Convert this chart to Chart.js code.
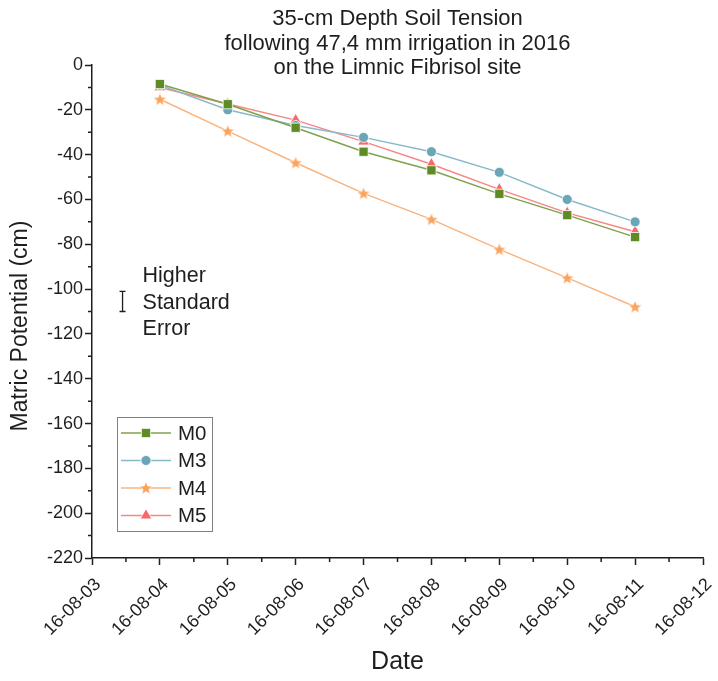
<!DOCTYPE html>
<html>
<head>
<meta charset="utf-8">
<script src="https://cdn.jsdelivr.net/npm/chart.js@4.4.1/dist/chart.umd.min.js"></script>
<style>
  html, body { margin: 0; padding: 0; background: #fff; }
</style>
</head>
<body>
<canvas id="chart" width="718" height="681"></canvas>
<script>
const tickDates = [
  "16-08-03", "16-08-04", "16-08-05", "16-08-06", "16-08-07",
  "16-08-08", "16-08-09", "16-08-10", "16-08-11", "16-08-12",
];
const sampleDates = [
  "16-08-04", "16-08-05", "16-08-06", "16-08-07",
  "16-08-08", "16-08-09", "16-08-10", "16-08-11",
];

// matric potential at 35 cm depth (cm)
const m0 = [-8.5, -17.5, -28, -38.7, -47, -57.5, -67, -76.8];
const m3 = [-9, -20, -27, -32.3, -38.7, -47.9, -60, -70];
const m4 = [-15.3, -29.5, -43.6, -57.3, -68.9, -82.3, -95, -107.9];
const m5 = [-10, -17.4, -24.6, -34.2, -44.3, -55.5, -66, -74.4];

const seriesNames = ["M0", "M3", "M4", "M5"];

const titleLines = [
  "35-cm Depth Soil Tension",
  "following 47,4 mm irrigation in 2016",
  "on the Limnic Fibrisol site",
];
const yTitle = "Matric Potential (cm)";
const xTitle = "Date";
const noteLines = ["Higher", "Standard", "Error"];
// typical high standard error, drawn as a free-standing bar
const errorBar = { x: 0.45, low: -110, high: -101 };

const FONT = "'Liberation Sans', Arial, sans-serif";
const INK = "#1e1e1e";

const makeStar = (fill) => {
  const c = document.createElement("canvas");
  c.width = 16;
  c.height = 16;
  const g = c.getContext("2d");
  g.beginPath();
  for (let i = 0; i < 10; i++) {
    const r = i % 2 === 0 ? 7 : 3;
    const a = -Math.PI / 2 + (i * Math.PI) / 5;
    g.lineTo(8 + r * Math.cos(a), 8.5 + r * Math.sin(a));
  }
  g.closePath();
  g.fillStyle = fill;
  g.fill();
  g.strokeStyle = "rgba(255,255,255,0.8)";
  g.lineWidth = 0.8;
  g.stroke();
  return c;
};

const styles = [
  { marker: "#5f8b25", line: "#7fa24a", pointStyle: "rect", radius: 6.5 },
  { marker: "#6aa5b8", line: "#86b9ca", pointStyle: "circle", radius: 5 },
  { marker: "#f9a35c", line: "#f9b47f", pointStyle: makeStar("#f9a35c"), radius: 7 },
  { marker: "#f86a6a", line: "#f88585", pointStyle: "triangle", radius: 6.8 },
];

const toPoints = (values) =>
  sampleDates.map((d, i) => ({ x: tickDates.indexOf(d), y: values[i] }));

const datasets = [m0, m3, m4, m5].map((values, i) => ({
  label: seriesNames[i],
  data: toPoints(values),
  borderColor: styles[i].line,
  backgroundColor: styles[i].marker,
  pointBackgroundColor: styles[i].marker,
  pointBorderColor: "#ffffff",
  pointBorderWidth: 0.8,
  pointStyle: styles[i].pointStyle,
  pointRadius: styles[i].radius,
  borderWidth: 1.5,
  tension: 0,
}));

const drawPoint = (ctx, s, x, y) => {
  ctx.save();
  ctx.fillStyle = s.marker;
  ctx.strokeStyle = "#ffffff";
  ctx.lineWidth = 0.8;
  Chart.helpers.drawPoint(ctx, { pointStyle: s.pointStyle, radius: s.radius, rotation: 0, borderWidth: 0.8 }, x, y);
  ctx.restore();
};

// minor ticks, titles, legend and the standard error note
const decorations = {
  id: "decorations",
  afterDraw(chart) {
    const { ctx, chartArea, scales } = chart;
    const x = scales.x;
    const y = scales.y;
    ctx.save();
    ctx.strokeStyle = INK;
    ctx.lineWidth = 1.5;

    ctx.beginPath();
    for (let v = 0.5; v < tickDates.length - 1; v++) {
      const px = x.getPixelForValue(v);
      ctx.moveTo(px, chartArea.bottom);
      ctx.lineTo(px, chartArea.bottom + 4);
    }
    for (let v = -210; v < 0; v += 20) {
      const py = y.getPixelForValue(v);
      ctx.moveTo(chartArea.left, py);
      ctx.lineTo(chartArea.left - 4, py);
    }
    ctx.stroke();

    ctx.fillStyle = INK;
    ctx.textAlign = "center";
    ctx.textBaseline = "middle";
    ctx.font = `22px ${FONT}`;
    const cx = (chartArea.left + chartArea.right) / 2;
    titleLines.forEach((line, i) => ctx.fillText(line, cx, 19 + i * 24.5));

    ctx.save();
    ctx.translate(21, 326);
    ctx.rotate(-Math.PI / 2);
    ctx.font = `23px ${FONT}`;
    ctx.fillText(yTitle, 0, 0);
    ctx.restore();

    // error bar note
    const bx = x.getPixelForValue(errorBar.x);
    const by1 = y.getPixelForValue(errorBar.high);
    const by2 = y.getPixelForValue(errorBar.low);
    ctx.lineWidth = 1.3;
    ctx.beginPath();
    ctx.moveTo(bx, by1);
    ctx.lineTo(bx, by2);
    ctx.moveTo(bx - 3, by1);
    ctx.lineTo(bx + 3, by1);
    ctx.moveTo(bx - 3, by2);
    ctx.lineTo(bx + 3, by2);
    ctx.stroke();
    ctx.textAlign = "left";
    ctx.font = `21.5px ${FONT}`;
    const bmid = (by1 + by2) / 2;
    noteLines.forEach((line, i) => ctx.fillText(line, bx + 20, bmid - 25 + i * 26.5));

    // legend
    const lx = 117, ly = 417, lw = 95, lh = 114;
    ctx.strokeStyle = "#808080";
    ctx.lineWidth = 1;
    ctx.strokeRect(lx + 0.5, ly + 0.5, lw, lh);
    ctx.font = `20.5px ${FONT}`;
    seriesNames.forEach((name, i) => {
      const ry = ly + 16 + i * 27.5;
      ctx.strokeStyle = styles[i].line;
      ctx.lineWidth = 1.5;
      ctx.beginPath();
      ctx.moveTo(lx + 4, ry);
      ctx.lineTo(lx + 54, ry);
      ctx.stroke();
      drawPoint(ctx, styles[i], lx + 29, ry);
      ctx.fillStyle = INK;
      ctx.fillText(name, lx + 61, ry + 1);
    });
    ctx.restore();
  },
};

new Chart(document.getElementById("chart"), {
  type: "line",
  data: { datasets },
  options: {
    responsive: false,
    animation: false,
    layout: { padding: { top: 65, right: 15, bottom: 4, left: 0 } },
    plugins: {
      legend: { display: false },
      title: { display: false },
      tooltip: { enabled: false },
    },
    scales: {
      x: {
        type: "linear",
        min: 0,
        max: tickDates.length - 1,
        border: { display: true, color: INK, width: 1.5 },
        grid: { drawOnChartArea: false, tickLength: 7, tickColor: INK, tickWidth: 1.5 },
        ticks: {
          stepSize: 1,
          autoSkip: false,
          maxRotation: 45,
          minRotation: 45,
          padding: 9,
          labelOffset: 6,
          color: INK,
          font: { family: FONT, size: 18 },
          callback: (v) => tickDates[v],
        },
        title: {
          display: true,
          text: xTitle,
          color: INK,
          font: { family: FONT, size: 25 },
          padding: { top: 0, bottom: 0 },
        },
        afterFit: (s) => {
          s.height = 119;
          s.paddingLeft = 0;
          s.paddingRight = 0;
        },
      },
      y: {
        min: -220,
        max: 0,
        border: { display: true, color: INK, width: 1.5 },
        grid: { drawOnChartArea: false, tickLength: 7, tickColor: INK, tickWidth: 1.5 },
        ticks: {
          stepSize: 20,
          padding: 2,
          color: INK,
          font: { family: FONT, size: 18 },
        },
        afterFit: (s) => {
          s.width = 92;
          s.paddingTop = 0;
          s.paddingBottom = 0;
        },
      },
    },
  },
  plugins: [decorations],
});
</script>
</body>
</html>
